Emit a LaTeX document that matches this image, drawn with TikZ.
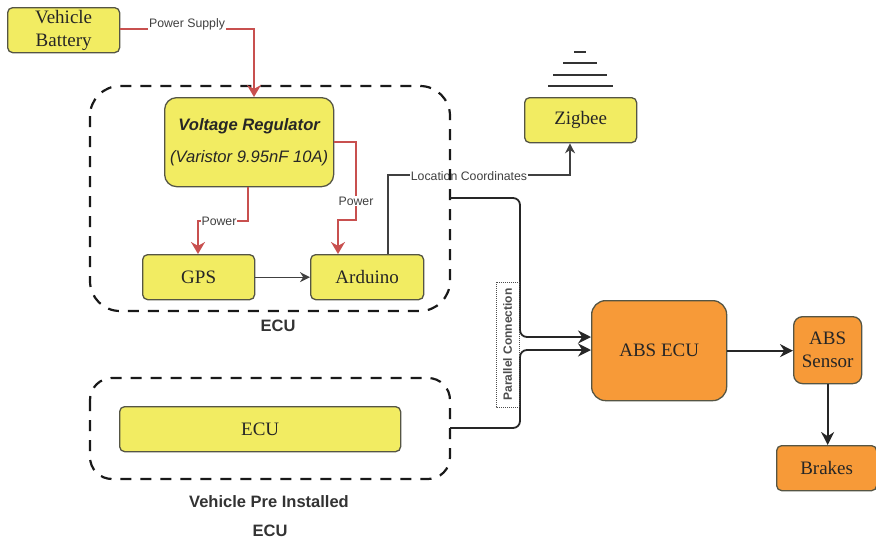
\documentclass[tikz,border=0pt]{standalone}
\usepackage{fontspec}
\setmainfont{Liberation Serif}
\setsansfont{Liberation Sans}
\usetikzlibrary{arrows.meta}
\definecolor{yel}{HTML}{F2EC62}
\definecolor{org}{HTML}{F79A38}
\definecolor{redl}{HTML}{C8504F}
\definecolor{edge}{HTML}{555544}
\tikzset{
 x=1pt,y=-1pt,
 box/.style={draw=edge,line width=1.3pt,rounded corners=5pt,anchor=north west,inner sep=0pt,align=center,text=black!85,font=\fontsize{19}{23}\selectfont},
 ybox/.style={box,fill=yel},
 obox/.style={box,fill=org},
 dashbox/.style={draw=black!90,line width=2.2pt,dash pattern=on 11pt off 9pt,rounded corners=30pt},
 redline/.style={draw=redl,line width=1.7pt},
 redar/.style={redline,-{Stealth[length=12pt,width=14pt]}},
 blk/.style={draw=black!75,line width=1.3pt,-{Stealth[length=10pt,width=10pt]}},
 blkb/.style={draw=black!85,line width=1.8pt,-{Stealth[length=13pt,width=13pt]}},
 thickconn/.style={blkb,rounded corners=7pt},
 lab/.style={fill=white,inner sep=1pt,font=\sffamily\fontsize{12.3}{14}\selectfont,text=black!75},
 captext/.style={font=\sffamily\bfseries\fontsize{16.5}{19}\selectfont,text=black!80},
 sigbar/.style={draw=black!80,line width=2pt}
}
\begin{document}
\begin{tikzpicture}
\useasboundingbox (0,0) rectangle (876,541);
% boxes
\node[ybox,minimum width=112pt,minimum height=45pt] (bat) at (7,7) {Vehicle\\Battery};
\node[ybox,minimum width=169pt,minimum height=89pt,rounded corners=12pt,font=\sffamily\itshape\fontsize{16.6}{20}\selectfont] (vr) at (164,97) {\textbf{Voltage Regulator}\\[12pt](Varistor 9.95nF 10A)};
\node[ybox,minimum width=112pt,minimum height=45pt] (gps) at (142,254) {GPS};
\node[ybox,minimum width=113pt,minimum height=45pt] (ard) at (310,254) {Arduino};
\node[ybox,minimum width=112pt,minimum height=45pt] (zig) at (524,97) {Zigbee};
\node[ybox,minimum width=281pt,minimum height=45pt] (ecu) at (119,406) {ECU};
\node[obox,minimum width=135pt,minimum height=100pt,rounded corners=14pt] (abs) at (591,300) {ABS ECU};
\node[obox,minimum width=68pt,minimum height=67pt,rounded corners=9pt] (sen) at (793,316) {ABS\\Sensor};
\node[obox,minimum width=100pt,minimum height=45pt] (brk) at (776,445) {Brakes};
% free ends
\coordinate (e1) at (450,198);
\coordinate (e2) at (450,428);
% location connector under the dashed frame
\draw[blk] (ard.north -| 388,0) -- (388,175) -- (570,175) -- (zig.south -| 570,0);
\node[lab] (lc) at (469,176) {Location Coordinates};
% dashed containers
\draw[dashbox] (90,86) rectangle (450,311);
\draw[dashbox,rounded corners=22pt] (90,378) rectangle (450,479);
% red connectors
\draw[redar] (bat.east |- 0,29) -- (254,29) -- (vr.north -| 254,0);
\node[lab] (ps) at (187,24) {Power Supply};
\draw[redar] (vr.south -| 248,0) -- (248,221) -- (198,221) -- (gps.north -| 198,0);
\node[lab] (p1) at (219,221) {Power};
\draw[redar] (vr.east |- 0,142) -- (356,142) -- (356,220) -- (338,220) -- (ard.north -| 338,0);
\node[lab] (p2) at (356,201) {Power};
% black connectors
\draw[blk] (gps) -- (ard);
\draw[thickconn] (e1) -- (520,198) -- (520,337) -- (abs.west |- 0,337);
\draw[thickconn] (e2) -- (520,428) -- (520,350) -- (abs.west |- 0,350);
\draw[blkb] (abs.east) -- (abs.east -| sen.west);
\draw[blkb] (sen.south) -- (brk.north -| sen.south);
% parallel label
\node[draw=black!70,densely dotted,line width=1pt,minimum width=125pt,minimum height=23pt,inner sep=0pt,rotate=90,font=\sffamily\bfseries\fontsize{12}{14}\selectfont,text=black!70] (pc) at (507.5,344.5) {Parallel Connection};
% captions
\node[captext] (c1) at (278,326) {ECU};
\node[captext] (c2) at (269,502) {Vehicle Pre Installed};
\node[captext] (c3) at (270,531) {ECU};
% signal bars
\foreach \yy/\a/\b in {52/574/586,63/563/597,75/553/607,86/548/613}
  \draw[sigbar] (\a,\yy) -- (\b,\yy);
\end{tikzpicture}
\end{document}
